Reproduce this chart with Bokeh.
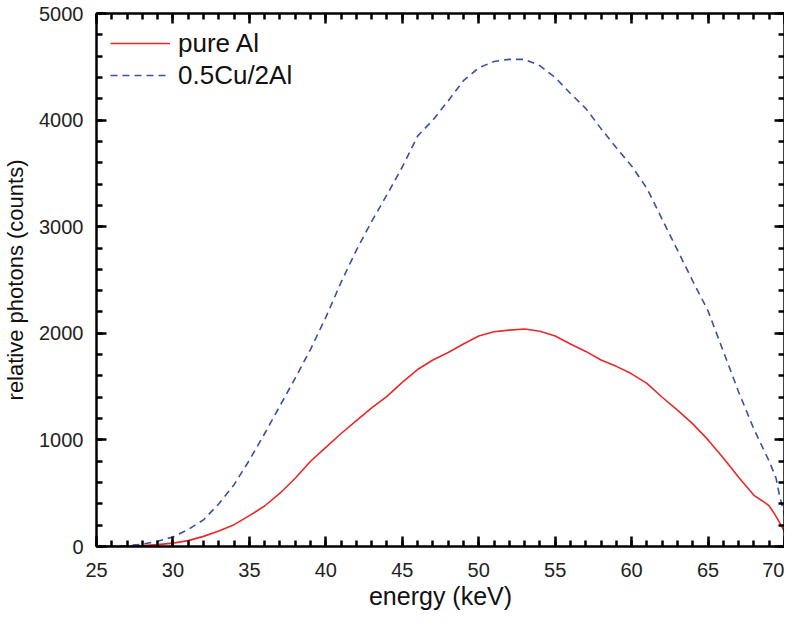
from bokeh.plotting import figure
from bokeh.models import (Range1d, LinearAxis, SingleIntervalTicker, Legend, LegendItem,
                          CustomJSTickFormatter)
from bokeh.embed import file_html
from bokeh.resources import INLINE

# pure Al
energy_al = [25, 26, 27, 28, 29, 30, 31, 32, 33, 34, 35, 36, 37, 38, 39, 40, 41, 42, 43, 44, 45,
             46, 47, 48, 49, 50, 51, 52, 53, 54, 55, 56, 57, 58, 59, 60, 61, 62, 63, 64, 65,
             66, 67, 68, 68.7, 69, 69.35, 69.7, 70]
counts_al = [0, 0, 2, 8, 18, 32, 55, 95, 145, 205, 290, 380, 500, 640, 800, 930, 1060, 1180, 1300, 1409, 1540,
             1660, 1750, 1820, 1900, 1975, 2015, 2030, 2040, 2020, 1975, 1900, 1830, 1750, 1690, 1620, 1530, 1400, 1280, 1150, 1000,
             830, 650, 480, 414, 380, 306, 220, 140]

# 0.5Cu/2Al
energy_cu = [25, 26, 27, 28, 29, 30, 31, 32, 33, 34, 35, 36, 37, 38, 39, 40, 41, 42, 43, 44, 45,
             46, 47, 48, 49, 50, 51, 52, 53, 54, 55, 56, 57, 58, 59, 60, 61, 62, 63, 64, 65,
             66, 67, 68, 68.5, 69, 69.45, 69.7, 70]
counts_cu = [0, 2, 8, 22, 50, 90, 160, 250, 400, 580, 810, 1060, 1320, 1580, 1850, 2150, 2480, 2780, 3050, 3300, 3560,
             3850, 4000, 4180, 4370, 4490, 4550, 4570, 4570, 4510, 4400, 4250, 4110, 3920, 3740, 3570, 3360, 3070, 2780, 2490, 2210,
             1830, 1450, 1100, 950, 800, 640, 460, 300]

label_al = "pure Al"
label_cu = "0.5Cu/2Al"
x_title = "energy (keV)"
y_title = "relative photons (counts)"

FONT = "Liberation Sans"

p = figure(width=784, height=612, output_backend="svg", toolbar_location=None,
           x_range=Range1d(25, 70), y_range=Range1d(0, 5000),
           x_axis_label=x_title, y_axis_label=y_title,
           min_border_left=0, min_border_right=0, min_border_top=13, min_border_bottom=0)
p.xgrid.visible = False
p.ygrid.visible = False
p.outline_line_color = None
p.background_fill_color = "white"
p.border_fill_color = "white"

r1 = p.line(energy_al, counts_al, line_color="#e8282a", line_width=1.6)
r2 = p.line(energy_cu, counts_cu, line_color="#3b4fa3", line_width=1.6, line_dash="7 5")

def style(ax, ticker, labels=True):
    ax.ticker = ticker
    ax.axis_line_color = "black"
    ax.axis_line_width = 2.5
    ax.major_tick_in = 10
    ax.major_tick_out = 0
    ax.minor_tick_in = 6
    ax.minor_tick_out = 0
    ax.major_tick_line_width = 2.5
    ax.minor_tick_line_width = 2.5
    ax.major_tick_line_color = "black"
    ax.minor_tick_line_color = "black"
    if labels:
        ax.major_label_text_font = FONT
        ax.major_label_text_font_size = "20px"
        ax.major_label_text_color = "#222222"
        ax.axis_label_text_font = FONT
        ax.axis_label_text_font_style = "normal"
        ax.axis_label_text_color = "#111111"
    else:
        ax.formatter = CustomJSTickFormatter(code="return '';")
        ax.major_label_standoff = 0
        ax.axis_label = None

style(p.xaxis[0], SingleIntervalTicker(interval=5, num_minor_ticks=5))
p.xaxis[0].major_label_standoff = 16
p.xaxis[0].axis_label_standoff = 2
p.xaxis[0].axis_label_text_font_size = "25px"
style(p.yaxis[0], SingleIntervalTicker(interval=1000, num_minor_ticks=5))
p.yaxis[0].major_label_standoff = 13
p.yaxis[0].axis_label_standoff = 8
p.yaxis[0].axis_label_text_font_size = "22px"

top = LinearAxis()
style(top, SingleIntervalTicker(interval=5, num_minor_ticks=5), labels=False)
p.add_layout(top, "above")
right = LinearAxis()
style(right, SingleIntervalTicker(interval=1000, num_minor_ticks=5), labels=False)
p.add_layout(right, "right")

legend = Legend(items=[LegendItem(label=label_al, renderers=[r1]),
                       LegendItem(label=label_cu, renderers=[r2])],
                location="top_left")
legend.border_line_color = None
legend.background_fill_alpha = 0
legend.label_text_font = FONT
legend.label_text_font_size = "26px"
legend.label_text_color = "#111111"
legend.glyph_width = 60
legend.glyph_height = 32
legend.label_height = 32
legend.label_standoff = 8
legend.spacing = 0
legend.padding = 14
legend.margin = 14
p.add_layout(legend)

open("out.html", "w").write(file_html(p, INLINE))
